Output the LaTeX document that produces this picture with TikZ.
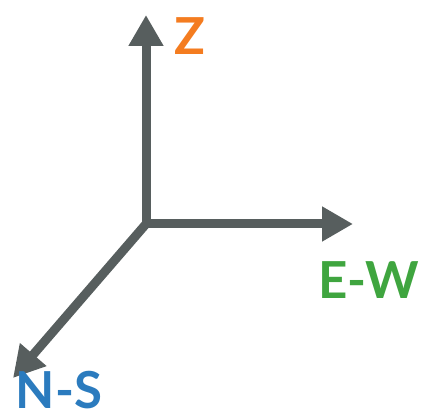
\documentclass[tikz,border=0pt]{standalone}
\usepackage{fontspec}
\setmainfont{Lato}
\usetikzlibrary{arrows.meta}
\definecolor{axisgray}{HTML}{575E5E}
\definecolor{zorange}{HTML}{F47C20}
\definecolor{ewgreen}{HTML}{3FA53F}
\definecolor{nsblue}{HTML}{2B7BBE}
\tikzset{
  axis/.style={draw=axisgray, line width=9pt, line join=miter,
    arrows={-{Triangle[length=31pt,width=33pt]}}},
  axislabel/.style={inner sep=0pt, font=\fontsize{51}{51}\selectfont\bfseries}
}
\begin{document}
\begin{tikzpicture}[x=1pt,y=1pt]
  \useasboundingbox (0,0) rectangle (426,419);
  % axis origin and tips
  \coordinate (o) at (146,195);
  \coordinate (ztip) at (146,404);
  \coordinate (ewtip) at (353,195);
  \coordinate (nstip) at (13,41);
  % vertical and east-west axes share the corner
  \draw[axis, arrows={{Triangle[length=31pt,width=33pt]}-{Triangle[length=31pt,width=33pt]}}] (ztip) -- (o) -- (ewtip);
  \draw[axis] (o) -- (nstip);
  % labels
  \node[axislabel, text=zorange] (zl) at (190,382.5) {Z};
  \node[axislabel, text=ewgreen] (ewl) at (369,139) {E-W};
  \node[axislabel, text=nsblue] (nsl) at (59,29) {N-S};
\end{tikzpicture}
\end{document}
